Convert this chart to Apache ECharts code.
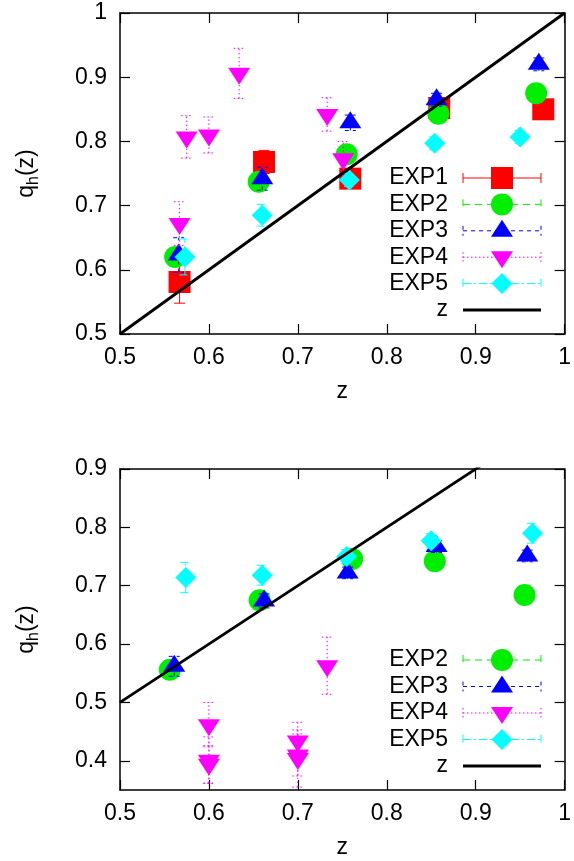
<!DOCTYPE html>
<html>
<head>
<meta charset="utf-8">
<script src="https://cdn.jsdelivr.net/npm/echarts@6/dist/echarts.min.js"></script>
<style>
  html, body { margin: 0; padding: 0; background: #ffffff; }
  #chart { width: 574px; height: 861px; }
</style>
</head>
<body>
<div id="chart"></div>
<script>
// ---- Upper panel: q_h(z) for EXP1..EXP5 ----
const upExp1X   = [0.567, 0.662, 0.759, 0.859, 0.976];
const upExp1Y   = [0.581, 0.768, 0.742, 0.852, 0.850];
const upExp1Err = [0.033, 0.018, 0.012, 0.012, 0.012];

const upExp2X   = [0.562, 0.656, 0.755, 0.858, 0.968];
const upExp2Y   = [0.620, 0.737, 0.780, 0.843, 0.875];
const upExp2Err = [0.012, 0.010, 0.010, 0.010, 0.010];

const upExp3X   = [0.566, 0.660, 0.759, 0.856, 0.971];
const upExp3Y   = [0.623, 0.742, 0.829, 0.865, 0.920];
const upExp3Err = [0.027, 0.018, 0.012, 0.010, 0.010];

const upExp4X   = [0.567, 0.575, 0.600, 0.634, 0.733, 0.751];
const upExp4Y   = [0.672, 0.807, 0.810, 0.906, 0.842, 0.773];
const upExp4Err = [0.034, 0.033, 0.028, 0.039, 0.026, 0.027];

const upExp5X   = [0.573, 0.660, 0.758, 0.854, 0.950];
const upExp5Y   = [0.620, 0.685, 0.740, 0.797, 0.807];
const upExp5Err = [0.028, 0.017, 0.010, 0.010, 0.010];

// ---- Lower panel: q_h(z) for EXP2..EXP5 ----
const loExp2X   = [0.556, 0.657, 0.761, 0.854, 0.955];
const loExp2Y   = [0.556, 0.675, 0.746, 0.742, 0.684];
const loExp2Err = [0.010, 0.010, 0.010, 0.010, 0.010];

const loExp3X   = [0.561, 0.662, 0.756, 0.856, 0.958];
const loExp3Y   = [0.562, 0.674, 0.722, 0.767, 0.751];
const loExp3Err = [0.017, 0.012, 0.010, 0.010, 0.010];

const loExp4X   = [0.600, 0.600, 0.600, 0.700, 0.700, 0.700, 0.733];
const loExp4Y   = [0.462, 0.401, 0.394, 0.434, 0.410, 0.404, 0.563];
const loExp4Err = [0.038, 0.040, 0.032, 0.032, 0.036, 0.049, 0.049];

const loExp5X   = [0.574, 0.660, 0.755, 0.850, 0.964];
const loExp5Y   = [0.714, 0.718, 0.750, 0.777, 0.790];
const loExp5Err = [0.026, 0.017, 0.012, 0.012, 0.017];

// reference line q = z
const zLineX = [0.5, 1.0];

// axis ranges and tick labels
const xTicks      = [0.5, 0.6, 0.7, 0.8, 0.9, 1.0];
const upYTicks    = [0.5, 0.6, 0.7, 0.8, 0.9, 1.0];
const loYTicks    = [0.4, 0.5, 0.6, 0.7, 0.8, 0.9];
const upYRange    = [0.5, 1.0];
const loYRange    = [0.35, 0.9];

const seriesNames = ['EXP1', 'EXP2', 'EXP3', 'EXP4', 'EXP5'];

const FONT = 'Liberation Sans, Arial, Helvetica, sans-serif';
const FS = 23;

// per-experiment look
const styles = {
  EXP1: { color: '#ff0000', symbol: 'rect',     size: [22, 22], rotate: 0,   offset: [0, 0],  dash: 'solid' },
  EXP2: { color: '#00ee00', symbol: 'circle',   size: [22, 22], rotate: 0,   offset: [0, 0],  dash: [7, 5] },
  EXP3: { color: '#0000ff', symbol: 'triangle', size: [22, 17], rotate: 0,   offset: [0, -3], dash: [4, 4] },
  EXP4: { color: '#ff00ff', symbol: 'triangle', size: [22, 17], rotate: 180, offset: [0, 3],  dash: [1.5, 2.5] },
  EXP5: { color: '#00ffff', symbol: 'diamond',  size: [21, 21], rotate: 0,   offset: [0, 0],  dash: [8, 3, 2, 3] }
};

function pts(xs, ys) { return xs.map((x, i) => [x, ys[i]]); }
function errPts(xs, ys, es) { return xs.map((x, i) => [x, ys[i], es[i]]); }

function errorSeries(name, xs, ys, es, axisIdx, z) {
  const st = styles[name];
  return {
    type: 'custom',
    name: name + '-err',
    xAxisIndex: axisIdx, yAxisIndex: axisIdx,
    clip: true,
    z: z,
    silent: true,
    data: errPts(xs, ys, es),
    encode: { x: 0, y: 1 },
    renderItem: function (params, api) {
      const x = api.value(0), y = api.value(1), e = api.value(2);
      const lo = api.coord([x, y - e]);
      const hi = api.coord([x, y + e]);
      const cw = 5.5;
      const ls = { stroke: st.color, lineWidth: 1, lineDash: st.dash === 'solid' ? null : st.dash };
      return {
        type: 'group',
        children: [
          { type: 'line', shape: { x1: lo[0], y1: lo[1], x2: hi[0], y2: hi[1] }, style: ls },
          { type: 'line', shape: { x1: lo[0] - cw, y1: lo[1], x2: lo[0] + cw, y2: lo[1] }, style: ls },
          { type: 'line', shape: { x1: hi[0] - cw, y1: hi[1], x2: hi[0] + cw, y2: hi[1] }, style: ls }
        ]
      };
    }
  };
}

function pointSeries(name, xs, ys, axisIdx, z) {
  const st = styles[name];
  return {
    type: 'scatter',
    name: name,
    xAxisIndex: axisIdx, yAxisIndex: axisIdx,
    z: z,
    symbol: st.symbol,
    symbolSize: st.size,
    symbolRotate: st.rotate,
    symbolOffset: st.offset,
    itemStyle: { color: st.color, opacity: 1 },
    emphasis: { disabled: true },
    silent: true,
    data: pts(xs, ys)
  };
}

function lineSeries(axisIdx) {
  return {
    type: 'line',
    name: 'z',
    xAxisIndex: axisIdx, yAxisIndex: axisIdx,
    z: 20,
    clip: true,
    symbol: 'none',
    silent: true,
    lineStyle: { color: '#000000', width: 2.8 },
    data: pts(zLineX, zLineX)
  };
}

const fmt = v => String(+v.toFixed(2));

function xAxes(gridIdx) {
  return [
    {
      type: 'value', gridIndex: gridIdx, position: 'bottom',
      min: xTicks[0], max: xTicks[xTicks.length - 1], interval: 0.1,
      name: 'z', nameLocation: 'middle', nameGap: 46,
      nameTextStyle: { fontFamily: FONT, fontSize: FS, color: '#000' },
      axisLine: { show: true, lineStyle: { color: '#000', width: 1.5 } },
      axisTick: { show: true, inside: true, length: 10, lineStyle: { color: '#000', width: 1.2 } },
      axisLabel: { show: true, margin: 12, formatter: fmt, fontFamily: FONT, fontSize: FS, color: '#000' },
      splitLine: { show: false }
    },
    {
      type: 'value', gridIndex: gridIdx, position: 'top',
      min: xTicks[0], max: xTicks[xTicks.length - 1], interval: 0.1,
      axisLine: { show: true, onZero: false, lineStyle: { color: '#000', width: 1.5 } },
      axisTick: { show: true, inside: true, length: 10, lineStyle: { color: '#000', width: 1.2 } },
      axisLabel: { show: false },
      splitLine: { show: false }
    }
  ];
}

function yAxes(gridIdx, range, ticks) {
  const tickCfg = { show: true, inside: true, length: 10, customValues: ticks, lineStyle: { color: '#000', width: 1.2 } };
  return [
    {
      type: 'value', gridIndex: gridIdx, position: 'left',
      min: range[0], max: range[1],
      name: '{q|q}{s|h}{q|(z)}', nameLocation: 'middle', nameRotate: 90, nameGap: 78,
      nameTextStyle: {
        fontFamily: FONT, color: '#000',
        rich: {
          q: { fontFamily: FONT, fontSize: FS, lineHeight: 30, color: '#000' },
          s: { fontFamily: FONT, fontSize: 16, lineHeight: 14, verticalAlign: 'bottom', color: '#000' }
        }
      },
      axisLine: { show: true, onZero: false, lineStyle: { color: '#000', width: 1.5 } },
      axisTick: tickCfg,
      axisLabel: { show: true, margin: 13, customValues: ticks, formatter: fmt, fontFamily: FONT, fontSize: FS, color: '#000' },
      splitLine: { show: false }
    },
    {
      type: 'value', gridIndex: gridIdx, position: 'right',
      min: range[0], max: range[1],
      axisLine: { show: true, onZero: false, lineStyle: { color: '#000', width: 1.5 } },
      axisTick: tickCfg,
      axisLabel: { show: false },
      splitLine: { show: false }
    }
  ];
}

// series collections: [upper axes index 0, lower axes index 2]
const upperData = {
  EXP1: [upExp1X, upExp1Y, upExp1Err],
  EXP2: [upExp2X, upExp2Y, upExp2Err],
  EXP3: [upExp3X, upExp3Y, upExp3Err],
  EXP4: [upExp4X, upExp4Y, upExp4Err],
  EXP5: [upExp5X, upExp5Y, upExp5Err]
};
const lowerData = {
  EXP2: [loExp2X, loExp2Y, loExp2Err],
  EXP3: [loExp3X, loExp3Y, loExp3Err],
  EXP4: [loExp4X, loExp4Y, loExp4Err],
  EXP5: [loExp5X, loExp5Y, loExp5Err]
};

const series = [];
function addPanel(dataMap, axisIdx) {
  let z = 2;
  seriesNames.forEach(name => {
    const d = dataMap[name];
    if (!d) return;
    series.push(errorSeries(name, d[0], d[1], d[2], axisIdx, z));
    series.push(pointSeries(name, d[0], d[1], axisIdx, z + 1));
    z += 2;
  });
  series.push(lineSeries(axisIdx));
}
addPanel(upperData, 0);
addPanel(lowerData, 2);

// x axes are indexed [upper-bottom, upper-top, lower-bottom, lower-top];
// y axes [upper-left, upper-right, lower-left, lower-right]
// so series use index 0 for the upper panel and 2 for the lower panel.

// ---- key boxes (text on the left, error-bar sample on the right) ----
function markerShape(name, cx, cy) {
  const st = styles[name];
  const fill = { fill: st.color };
  if (st.symbol === 'rect') {
    return { type: 'rect', shape: { x: cx - 11, y: cy - 11, width: 22, height: 22 }, style: fill };
  }
  if (st.symbol === 'circle') {
    return { type: 'circle', shape: { cx: cx, cy: cy, r: 11 }, style: fill };
  }
  if (st.symbol === 'diamond') {
    return { type: 'polygon', shape: { points: [[cx, cy - 10.5], [cx + 10.5, cy], [cx, cy + 10.5], [cx - 10.5, cy]] }, style: fill };
  }
  if (st.rotate === 180) {
    return { type: 'polygon', shape: { points: [[cx - 11, cy - 6], [cx + 11, cy - 6], [cx, cy + 11]] }, style: fill };
  }
  return { type: 'polygon', shape: { points: [[cx, cy - 11], [cx + 11, cy + 6], [cx - 11, cy + 6]] }, style: fill };
}

function keyBox(names, top, step) {
  const items = [];
  const textRight = 448, l0 = 463, l1 = 541, mid = 502;
  const all = names.concat(['z']);
  all.forEach((name, i) => {
    const y = top + i * step;
    items.push({
      type: 'text', z: 100,
      style: { text: name, x: textRight, y: y, align: 'right', verticalAlign: 'middle',
               font: FS + 'px ' + FONT, fill: '#000' }
    });
    if (name === 'z') {
      items.push({ type: 'line', z: 100, shape: { x1: l0, y1: y, x2: l1, y2: y },
                   style: { stroke: '#000', lineWidth: 2.8 } });
      return;
    }
    const st = styles[name];
    const ls = { stroke: st.color, lineWidth: 1, lineDash: st.dash === 'solid' ? null : st.dash };
    items.push({ type: 'line', z: 100, shape: { x1: l0, y1: y, x2: l1, y2: y }, style: ls });
    items.push({ type: 'line', z: 100, shape: { x1: l0, y1: y - 5, x2: l0, y2: y + 5 }, style: ls });
    items.push({ type: 'line', z: 100, shape: { x1: l1, y1: y - 5, x2: l1, y2: y + 5 }, style: ls });
    const m = markerShape(name, mid, y);
    m.z = 101;
    items.push(m);
  });
  return items;
}

const graphics = []
  .concat(keyBox(['EXP1', 'EXP2', 'EXP3', 'EXP4', 'EXP5'], 178, 26.4))
  .concat(keyBox(['EXP2', 'EXP3', 'EXP4', 'EXP5'], 660, 26.5));

const chart = echarts.init(document.getElementById('chart'), null, { renderer: 'canvas' });
chart.setOption({
  animation: false,
  backgroundColor: '#ffffff',
  grid: [
    { left: 120, top: 13, width: 449, height: 321 },
    { left: 120, top: 469, width: 449, height: 321 }
  ],
  xAxis: xAxes(0).concat(xAxes(1)),
  yAxis: yAxes(0, upYRange, upYTicks).concat(yAxes(1, loYRange, loYTicks)),
  series: series,
  graphic: graphics
});
</script>
</body>
</html>
